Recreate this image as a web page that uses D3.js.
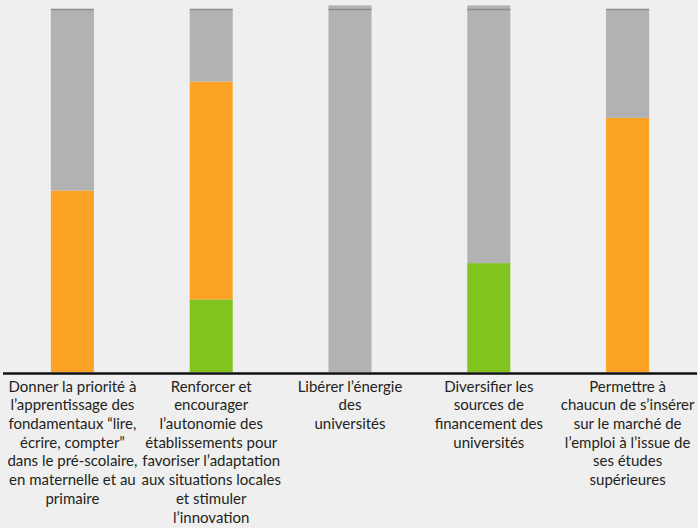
<!DOCTYPE html>
<html>
<head>
<meta charset="utf-8">
<script src="https://cdn.jsdelivr.net/npm/d3@7"></script>
<style>
  body { margin: 0; background: #efefef; }
  svg { display: block; }
</style>
</head>
<body>
<script>
// Categories, one line per row of the label
const categories = ["c1", "c2", "c3", "c4", "c5"];
const labels = [
  ["Donner la priorité à", "l’apprentissage des", "fondamentaux “lire,", "écrire, compter”", "dans le pré-scolaire,", "en maternelle et au", "primaire"],
  ["Renforcer et", "encourager", "l’autonomie des", "établissements pour", "favoriser l’adaptation", "aux situations locales", "et stimuler", "l’innovation"],
  ["Libérer l’énergie", "des", "universités"],
  ["Diversifier les", "sources de", "financement des", "universités"],
  ["Permettre à", "chaucun de s’insérer", "sur le marché de", "l’emploi à l’issue de", "ses études", "supérieures"]
];
// Series values (percent)
const green  = [0, 20, 0, 30, 0];
const orange = [50, 60, 0, 0, 70];
const grey   = [50, 20, 101, 71, 30];
const refLine = 100;

const W = 698, H = 528;
const margin = {top: 9, right: 2, bottom: 156, left: 3};
const width = W - margin.left - margin.right,
      height = H - margin.top - margin.bottom;

const svg = d3.select("body")
  .append("svg")
    .attr("width", W)
    .attr("height", H);

const g = svg.append("g")
    .attr("transform", "translate(" + margin.left + "," + margin.top + ")");

const x = d3.scaleBand()
  .domain(categories)
  .range([0, 694])
  .paddingInner(0.69)
  .paddingOuter(0.345);

const y = d3.scaleLinear()
  .domain([0, 100])
  .range([height, 0]);

const rows = categories.map((c, i) => ({key: c, green: green[i], orange: orange[i], grey: grey[i]}));
const stack = d3.stack().keys(["green", "orange", "grey"])(rows);
const color = {green: "#82c41e", orange: "#fca326", grey: "#b2b2b2"};

g.selectAll("g.layer")
  .data(stack)
  .enter()
  .append("g")
    .attr("class", "layer")
    .attr("fill", d => color[d.key])
  .selectAll("rect")
  .data(d => d)
  .enter()
  .append("rect")
    .attr("x", d => x(d.data.key))
    .attr("y", d => y(d[1]))
    .attr("width", x.bandwidth())
    .attr("height", d => y(d[0]) - y(d[1]));

// thin darker marker at 100
g.selectAll("line.ref")
  .data(categories)
  .enter()
  .append("line")
    .attr("x1", d => x(d))
    .attr("x2", d => x(d) + x.bandwidth())
    .attr("y1", y(refLine) + 0.5)
    .attr("y2", y(refLine) + 0.5)
    .attr("stroke", "#8c8c8c")
    .attr("stroke-width", 1.5);

// baseline
g.append("line")
  .attr("x1", 0)
  .attr("x2", width + 1)
  .attr("y1", height + 1.5)
  .attr("y2", height + 1.5)
  .attr("stroke", "#111")
  .attr("stroke-width", 2.5);

// labels
const lab = g.selectAll("text.lab")
  .data(categories)
  .enter()
  .append("text")
    .attr("class", "lab")
    .attr("text-anchor", "middle")
    .attr("font-family", "Lato, sans-serif")
    .attr("font-size", 15)
    .attr("fill", "#231f20")
    .attr("transform", d => "translate(" + (x(d) + x.bandwidth() / 2) + "," + (height + 19.7) + ")");

lab.selectAll("tspan")
  .data((d, i) => labels[i])
  .enter()
  .append("tspan")
    .attr("x", 0)
    .attr("y", (d, j) => j * 18.7)
    .text(d => d);
</script>
</body>
</html>
